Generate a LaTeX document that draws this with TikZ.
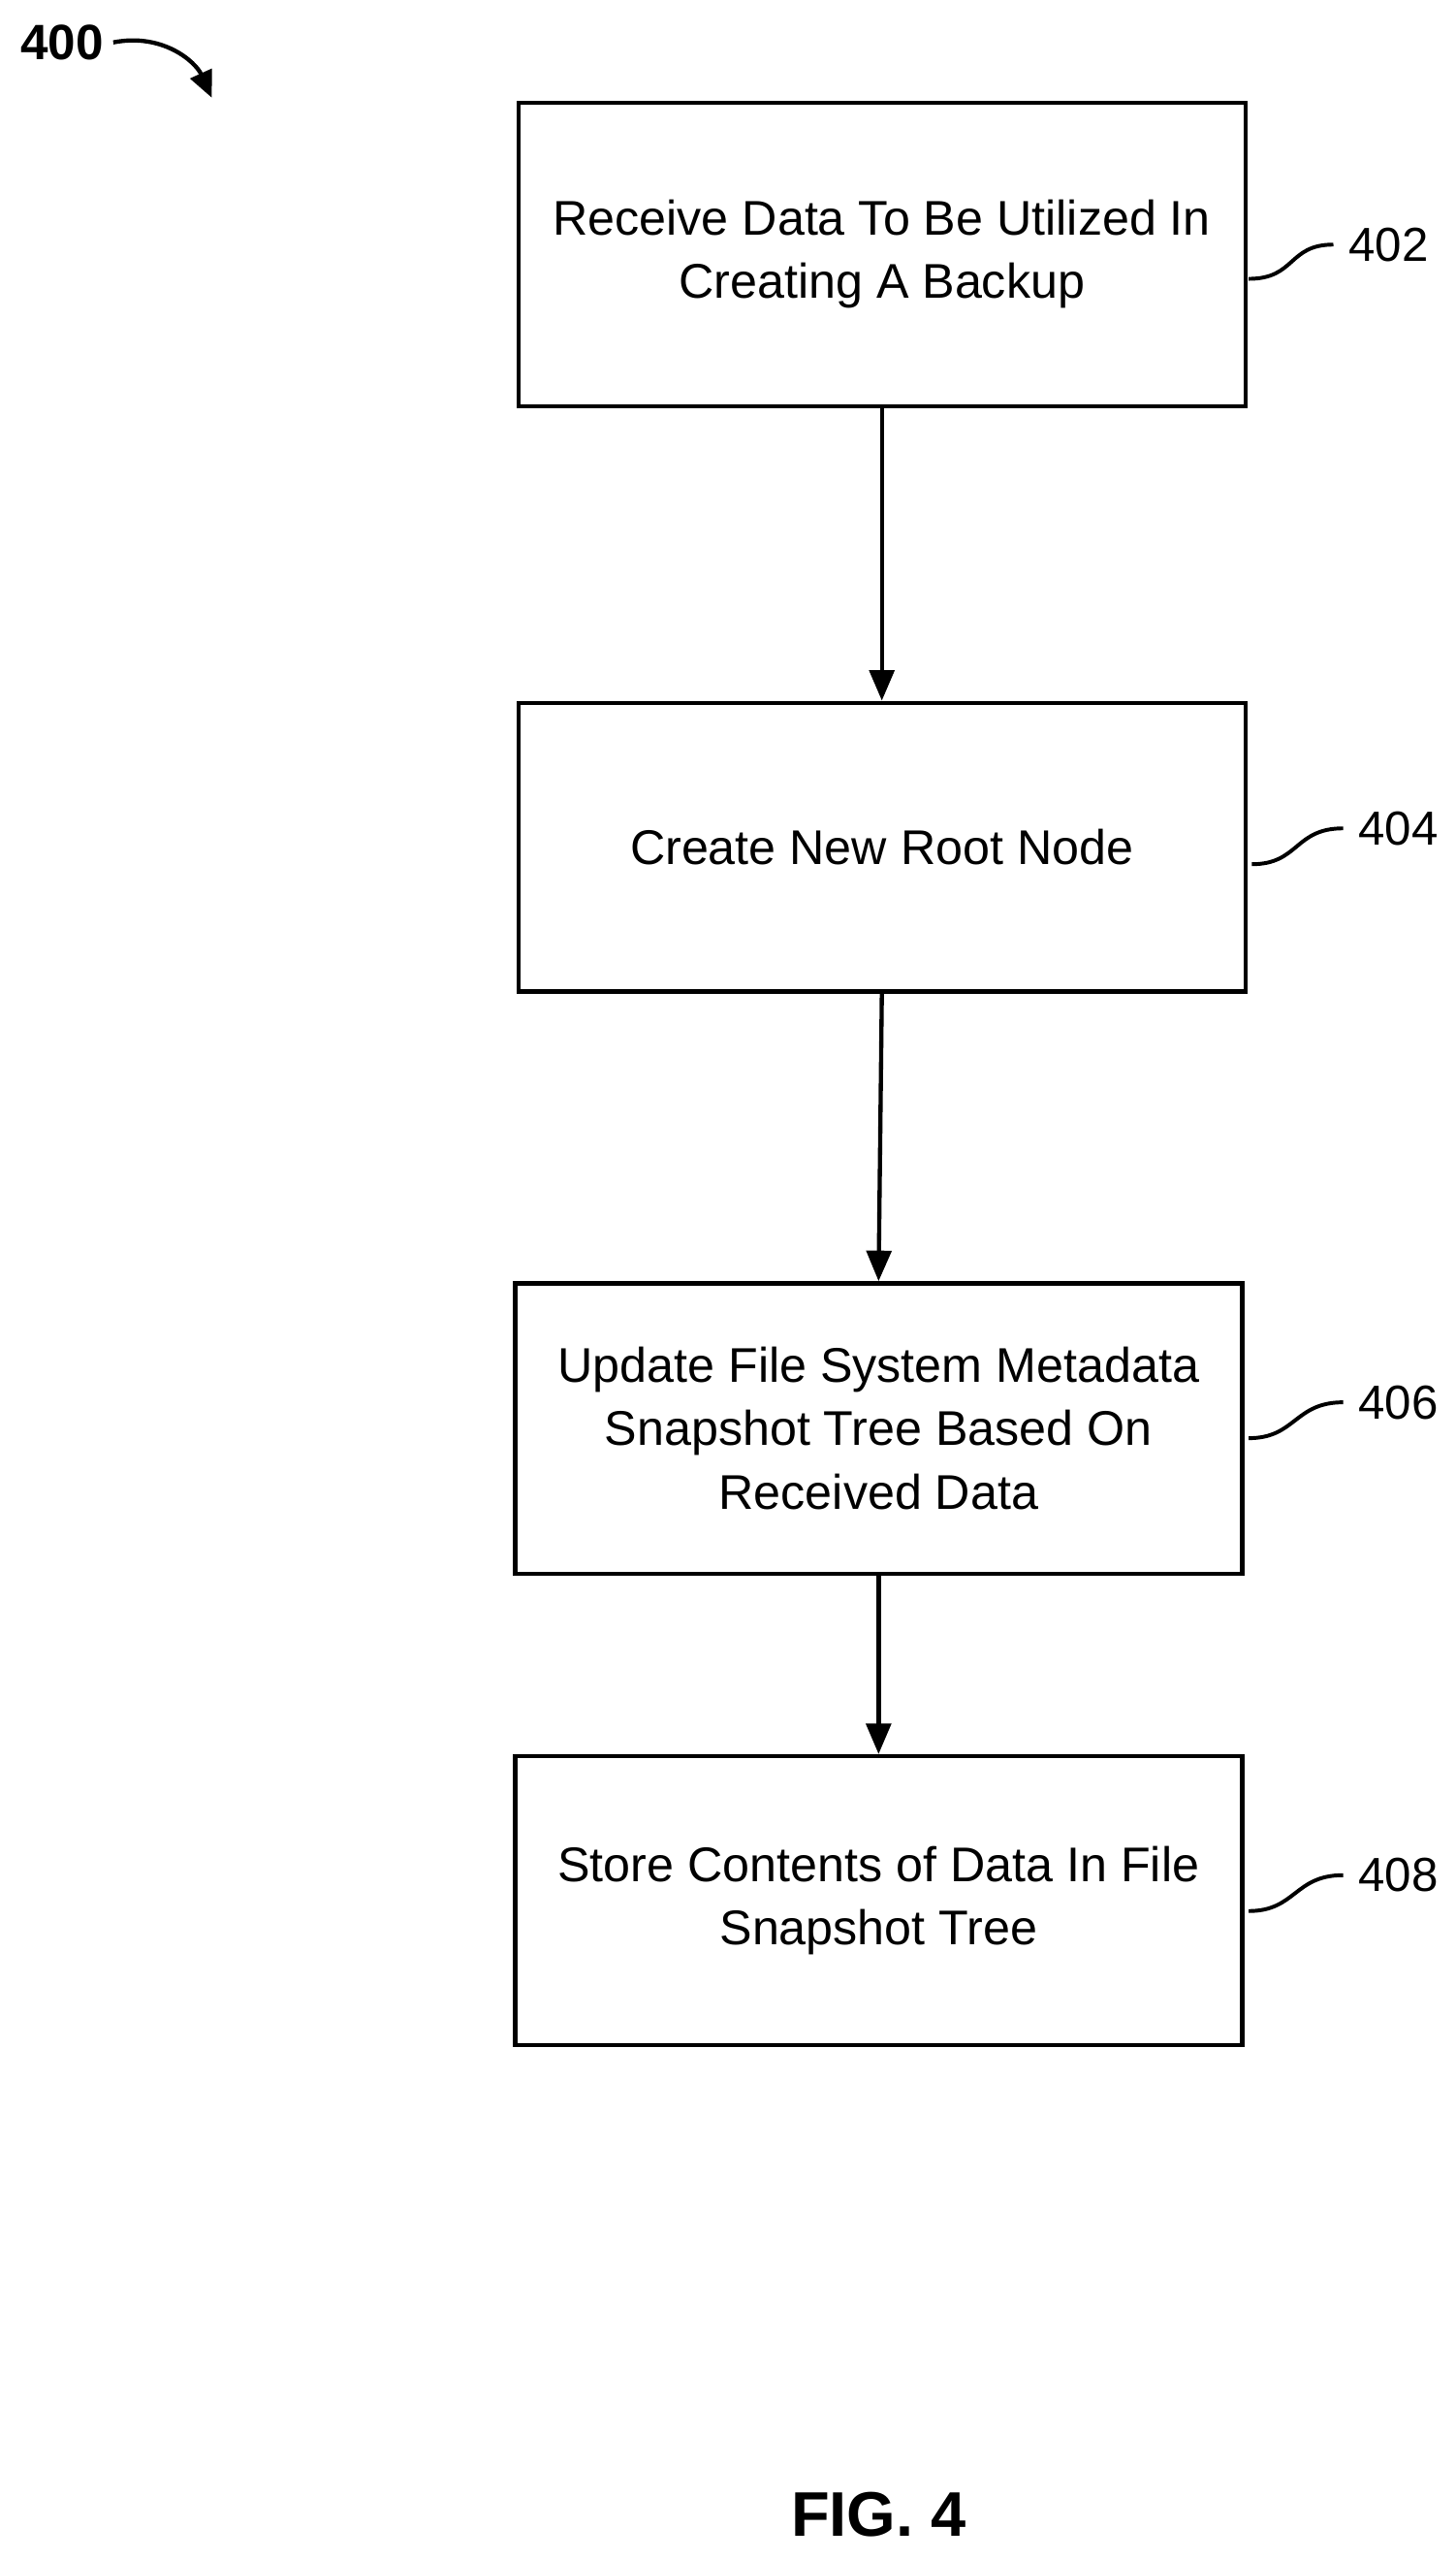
\documentclass[tikz,border=0pt]{standalone}
\usepackage{fontspec}
\setmainfont{Liberation Sans}
\usetikzlibrary{arrows.meta}
\begin{document}
\begin{tikzpicture}[x=0.03cm,y=-0.03cm,
  box/.style={draw,line width=2.2pt,minimum width=13.38cm,align=center,font=\fontsize{25.5}{33}\selectfont,inner sep=0pt},
  lbl/.style={font=\fontsize{25}{28}\selectfont,anchor=west,inner sep=1pt},
  arr/.style={line width=2.2pt,-{Triangle[length=16pt,width=13pt]}},
  sq/.style={line width=2pt}]
\useasboundingbox (0,0) rectangle (893,1570);
\node[box,minimum height=5.58cm] (b402) at (541,156) {Receive Data To Be Utilized In\\Creating A Backup};
\node[box,minimum height=5.31cm] (b404) at (541,519.5) {Create New Root Node};
\node[box,minimum height=5.34cm] (b406) at (539,876) {Update File System Metadata\\Snapshot Tree Based On\\Received Data};
\node[box,minimum height=5.31cm] (b408) at (539,1165.5) {Store Contents of Data In File\\Snapshot Tree};
\draw[arr] (b402.south) -- (b404.north);
\draw[arr] (b404.south) -- (b406.north);
\draw[arr] (b406.south) -- (b408.north);
\node[lbl] (l402) at (826,150) {402};
\node[lbl] (l404) at (832,508) {404};
\node[lbl] (l406) at (832,860) {406};
\node[lbl] (l408) at (832,1150) {408};
\draw[sq] (766,171) .. controls (795,171) and (790,150) .. (818,150);
\draw[sq] (768,530) .. controls (797,530) and (794,508) .. (824,508);
\draw[sq] (766,882) .. controls (795,882) and (794,860) .. (824,860);
\draw[sq] (766,1172) .. controls (795,1172) and (794,1150) .. (824,1150);
\node[font=\bfseries\fontsize{26}{30}\selectfont,inner sep=1pt] (l400) at (38,26) {400};
\draw[line width=2.2pt,-{Triangle[length=14pt,width=12pt]}] ([xshift=4pt]l400.east) .. controls (100,20) and (120,38) .. (130,60);
\node[font=\bfseries\fontsize{33}{38}\selectfont] (fig) at (539,1542) {FIG. 4};
\end{tikzpicture}
\end{document}
